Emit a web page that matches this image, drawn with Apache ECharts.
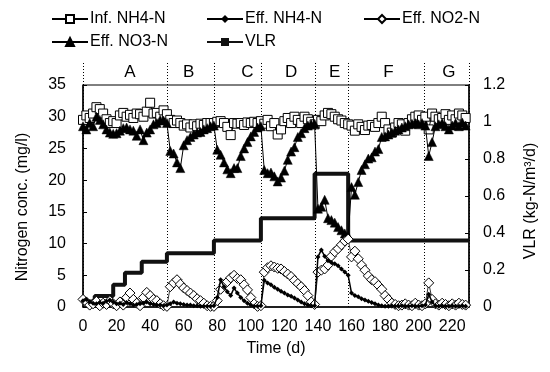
<!DOCTYPE html>
<html>
<head>
<meta charset="utf-8">
<script src="https://cdn.jsdelivr.net/npm/echarts@6/dist/echarts.min.js"></script>
<style>
html,body{margin:0;padding:0;background:#fff;}
#c{width:550px;height:372px;}
</style>
</head>
<body>
<div id="c"></div>
<script>
// ---- data ----
const days = [
  0, 2, 4, 6, 8, 10, 12, 14, 16, 18,
  20, 22, 24, 26, 28, 30, 32, 34, 36, 38,
  40, 42, 44, 46, 48, 50, 52, 54, 56, 58,
  60, 62, 64, 66, 68, 70, 72, 74, 76, 78,
  80, 82, 84, 86, 88, 90, 92, 94, 96, 98,
  100, 102, 104, 106, 108, 110, 112, 114, 116, 118,
  120, 122, 124, 126, 128, 130, 132, 134, 136, 138,
  140, 142, 144, 146, 148, 150, 152, 154, 156, 158,
  160, 162, 164, 166, 168, 170, 172, 174, 176, 178,
  180, 182, 184, 186, 188, 190, 192, 194, 196, 198,
  200, 202, 204, 206, 208, 210, 212, 214, 216, 218,
  220, 222, 224, 226, 228
];
const infNH4 = [
  29.5, 30.2, 29.8, 30.5, 31.5, 31.2, 30.5, 29.6, 29.0, 29.3,
  29.0, 30.2, 30.6, 30.0, 30.3, 29.8, 30.5, 30.4, 30.0, 30.8,
  32.2, 30.5, 30.6, 30.0, 31.0, 30.4, 29.5, 29.0, 29.4, 29.0,
  28.6, 28.8, 28.3, 28.8, 28.5, 28.9, 28.7, 29.0, 29.0, 29.0,
  29.2, 29.3, 29.0, 28.4, 27.1, 29.0, 28.9, 29.0, 28.7, 29.1,
  29.0, 29.2, 29.0, 29.3, 28.9, 29.5, 28.5, 29.0, 27.2, 28.0,
  29.3, 29.8, 29.0, 30.0, 29.5, 29.0, 30.0, 29.6, 29.2, 28.8,
  29.5, 29.3, 30.2, 30.6, 30.4, 30.0, 29.6, 29.4, 29.0, 28.8,
  28.6, 27.8, 28.8, 28.4, 27.9, 28.6, 28.7, 28.4, 29.0, 30.0,
  29.0, 28.0, 27.5, 28.3, 29.0, 28.8, 27.8, 29.0, 29.6, 30.0,
  30.2, 29.5, 30.0, 28.0, 30.5, 30.0, 29.6, 29.8, 30.4, 29.5,
  30.2, 29.6, 30.5, 30.2, 29.8
];
const effNH4 = [
  1.0, 1.2, 0.8, 0.6, 0.5, 0.7, 0.6, 0.9, 1.1, 0.8,
  0.5, 0.6, 0.4, 0.7, 0.5, 0.3, 0.4, 0.5, 0.6, 0.8,
  0.5, 0.4, 0.3, 0.3, 0.2, 0.3, 0.5, 0.8, 0.6, 0.5,
  0.4, 0.3, 0.3, 0.2, 0.2, 0.1, 0.1, 0.1, 0.1, 0.2,
  1.5, 4.3, 3.2, 2.4, 1.8, 3.0, 2.2, 1.5, 1.0, 0.6,
  0.3, 0.1, 0.1, 0.2, 4.2, 3.8, 3.5, 3.1, 2.8, 2.5,
  2.2, 1.9, 1.7, 1.4, 1.1, 0.8, 0.5, 0.3, 0.2, 0.2,
  7.9, 9.0, 8.0, 7.3, 7.0, 6.8, 6.5, 6.0, 5.5, 5.0,
  2.2, 1.8, 1.6, 1.3, 1.1, 0.9, 0.7, 0.5, 0.3, 0.2,
  0.1, 0.1, 0.2, 0.1, 0.1, 0.2, 0.1, 0.1, 0.2, 0.1,
  0.1, 0.2, 0.3, 2.0, 0.8, 0.2, 0.1, 0.2, 0.1, 0.1,
  0.2, 0.1, 0.1, 0.2, 0.1
];
const effNO2 = [
  1.2, 0.8, 0.3, 0.5, 0.9, 0.2, 0.6, 0.4, 1.0, 0.5,
  0.2, 0.8, 0.3, 1.5, 2.2, 1.2, 0.6, 0.2, 1.5, 2.3,
  1.8, 1.2, 1.0, 0.5, 0.2, 0.1, 3.2, 3.8, 4.3, 3.6,
  3.0, 2.6, 2.2, 1.8, 1.3, 1.0, 0.6, 0.2, 0.1, 0.1,
  1.0, 2.8, 3.5, 4.0, 4.6, 5.0, 4.5, 4.3, 3.5, 2.7,
  1.5, 0.5, 0.1, 0.2, 5.5, 6.2, 6.5, 6.3, 6.1, 6.0,
  5.6, 5.2, 4.8, 4.2, 3.7, 3.2, 2.6, 1.8, 0.8, 0.4,
  5.5, 5.8, 6.0, 6.6, 8.0, 8.7, 9.2, 9.8, 10.4, 10.7,
  7.9, 8.8, 7.6, 6.6, 5.8, 4.9, 4.3, 4.0, 3.4, 2.8,
  1.8, 1.2, 0.6, 0.4, 0.2, 0.3, 0.5, 0.3, 0.2, 0.6,
  0.3, 0.2, 0.5, 3.8, 1.2, 0.5, 0.3, 0.6, 0.4, 0.2,
  0.5, 0.3, 0.6, 0.4, 0.3
];
const effNO3 = [
  28.5, 28.0, 29.0, 28.5, 30.0, 29.5, 28.8, 28.0, 27.5, 27.3,
  27.4, 27.8, 28.2, 28.3, 28.0, 27.8, 27.0, 28.0, 26.3, 27.5,
  28.0, 28.8, 29.0, 29.5, 29.4, 29.0, 24.6, 24.2, 22.8, 21.9,
  25.5, 26.3, 26.8, 27.2, 27.5, 27.6, 28.0, 28.2, 28.5, 28.6,
  24.8, 24.0, 22.8, 21.7, 21.1, 21.9, 21.9, 23.8, 25.0, 26.0,
  26.9, 27.6, 28.3, 28.5, 21.6, 21.1, 21.2, 20.6, 19.8, 20.4,
  21.5, 23.2, 24.5, 25.2, 26.8, 27.4, 28.2, 28.6, 28.8, 28.9,
  15.5, 15.8, 16.9, 14.0, 13.7, 13.3, 12.6, 12.1, 11.6, 11.2,
  18.9, 17.7, 19.7, 21.6, 22.5, 23.4, 23.6, 24.5, 24.9, 26.8,
  26.9, 27.2, 27.5, 27.8, 28.0, 28.3, 28.5, 28.8, 28.9, 29.0,
  28.8, 29.0, 28.6, 23.8, 26.0, 28.5, 28.8, 29.0, 28.5, 28.0,
  28.6, 29.0, 28.5, 29.1, 28.6
];
// VLR step breakpoints (kg-N/m3/d)
const vlrDays   = [0, 7, 18, 25, 35, 50, 78, 106, 138, 158, 230];
const vlrValues = [0.03, 0.06, 0.12, 0.185, 0.245, 0.29, 0.36, 0.48, 0.72, 0.36, 0.36];
// phases
const phaseNames = ['A', 'B', 'C', 'D', 'E', 'F', 'G'];
const phaseBounds = [0, 50, 78, 106, 138, 158, 203, 230];
const phaseLabelDays = [28, 63, 98, 124, 150, 182, 218];
// axis ticks
const xTicks = [0, 20, 40, 60, 80, 100, 120, 140, 160, 180, 200, 220];

const FONT = "'Liberation Sans', Arial, sans-serif";
const pair = (xs, ys) => xs.map((x, i) => [x, ys[i]]);

const chart = echarts.init(document.getElementById('c'), null, {renderer: 'canvas'});

const legendItems = [
  {name: 'Inf. NH4-N', left: 46, top: 6},
  {name: 'Eff. NH4-N', left: 201, top: 6},
  {name: 'Eff. NO2-N', left: 358, top: 6},
  {name: 'Eff. NO3-N', left: 46, top: 29},
  {name: 'VLR', left: 201, top: 29}
];

const option = {
  animation: false,
  backgroundColor: '#fff',
  textStyle: {fontFamily: FONT, color: '#000'},
  legend: legendItems.map(l => ({
    data: [l.name], left: l.left, top: l.top,
    itemWidth: 36, itemHeight: 10, itemGap: 0,
    textStyle: {fontFamily: FONT, fontSize: 16, color: '#000', padding: [0, 0, 0, -3]},
    selectedMode: false
  })),
  grid: {left: 83, right: 81, top: 85, bottom: 65, show: true, borderColor: '#000', borderWidth: 1},
  xAxis: {
    type: 'value', min: 0, max: 230, interval: 20,
    name: 'Time (d)', nameLocation: 'middle', nameGap: 34,
    nameTextStyle: {fontFamily: FONT, fontSize: 16, color: '#000'},
    axisLine: {show: true, lineStyle: {color: '#000', width: 1.5}},
    axisTick: {show: false},
    splitLine: {show: false},
    axisLabel: {
      fontFamily: FONT, fontSize: 16, color: '#000', margin: 12,
      formatter: v => (xTicks.indexOf(v) >= 0 ? String(v) : '')
    }
  },
  yAxis: [
    {
      type: 'value', min: 0, max: 35, interval: 5,
      name: 'Nitrogen conc. (mg/l)', nameLocation: 'middle', nameGap: 52, nameRotate: 90,
      nameTextStyle: {fontFamily: FONT, fontSize: 16, color: '#000', padding: [0, 22, 0, 0]},
      axisLine: {show: true, lineStyle: {color: '#000', width: 1.5}},
      axisTick: {show: true, inside: true, length: 4, lineStyle: {color: '#000'}},
      splitLine: {show: false},
      axisLabel: {fontFamily: FONT, fontSize: 16, color: '#000', margin: 17}
    },
    {
      type: 'value', min: 0, max: 1.2, interval: 0.2, position: 'right',
      name: 'VLR (kg-N/m³/d)', nameLocation: 'middle', nameGap: 54, nameRotate: 90,
      nameTextStyle: {fontFamily: FONT, fontSize: 16, color: '#000', padding: [0, 10, 0, 0]},
      axisLine: {show: true, lineStyle: {color: '#000', width: 1.5}},
      axisTick: {show: true, inside: true, length: 4, lineStyle: {color: '#000'}},
      splitLine: {show: false},
      axisLabel: {fontFamily: FONT, fontSize: 16, color: '#000', margin: 14}
    }
  ],
  series: [
    {
      name: 'VLR', type: 'line', yAxisIndex: 1, step: 'end',
      data: pair(vlrDays, vlrValues),
      symbol: 'rect', symbolSize: 5, showSymbol: false,
      itemStyle: {color: '#111'},
      lineStyle: {color: '#111', width: 4},
      z: 2
    },
    {
      name: 'Inf. NH4-N', type: 'line', data: pair(days, infNH4),
      symbol: 'rect', symbolSize: 9, showSymbol: true,
      itemStyle: {color: '#fff', borderColor: '#000', borderWidth: 1},
      lineStyle: {color: '#000', width: 1},
      z: 3
    },
    {
      name: 'Eff. NO3-N', type: 'line', data: pair(days, effNO3),
      symbol: 'triangle', symbolSize: 9, showSymbol: true,
      itemStyle: {color: '#000', borderColor: '#000', borderWidth: 0.5},
      lineStyle: {color: '#000', width: 1},
      z: 4
    },
    {
      name: 'Eff. NO2-N', type: 'line', data: pair(days, effNO2),
      symbol: 'diamond', symbolSize: 10, showSymbol: true,
      itemStyle: {color: '#fff', borderColor: '#000', borderWidth: 1},
      lineStyle: {color: '#000', width: 0.8},
      z: 5
    },
    {
      name: 'Eff. NH4-N', type: 'line', data: pair(days, effNH4),
      symbol: 'diamond', symbolSize: 5, showSymbol: true,
      itemStyle: {color: '#000'},
      lineStyle: {color: '#000', width: 1.5},
      z: 6
    }
  ]
};
chart.setOption(option);

// phase boundaries and labels placed through the axis scales
const yTop = chart.convertToPixel({yAxisIndex: 0}, 35);
const yBot = chart.convertToPixel({yAxisIndex: 0}, 0);
const gr = [];
phaseBounds.forEach(d => {
  const x = Math.round(chart.convertToPixel({xAxisIndex: 0}, d)) + 0.5;
  gr.push({type: 'line', z: 1, silent: true,
    shape: {x1: x, y1: yTop - 22, x2: x, y2: yBot},
    style: {stroke: '#000', lineWidth: 1, lineDash: [1, 2]}});
});
phaseNames.forEach((n, i) => {
  const x = chart.convertToPixel({xAxisIndex: 0}, phaseLabelDays[i]);
  gr.push({type: 'text', z: 10, silent: true, x: x, y: yTop - 13,
    style: {text: n, fontFamily: FONT, fontSize: 17, fill: '#000', align: 'center', verticalAlign: 'middle'}});
});
chart.setOption({graphic: gr});
</script>
</body>
</html>
